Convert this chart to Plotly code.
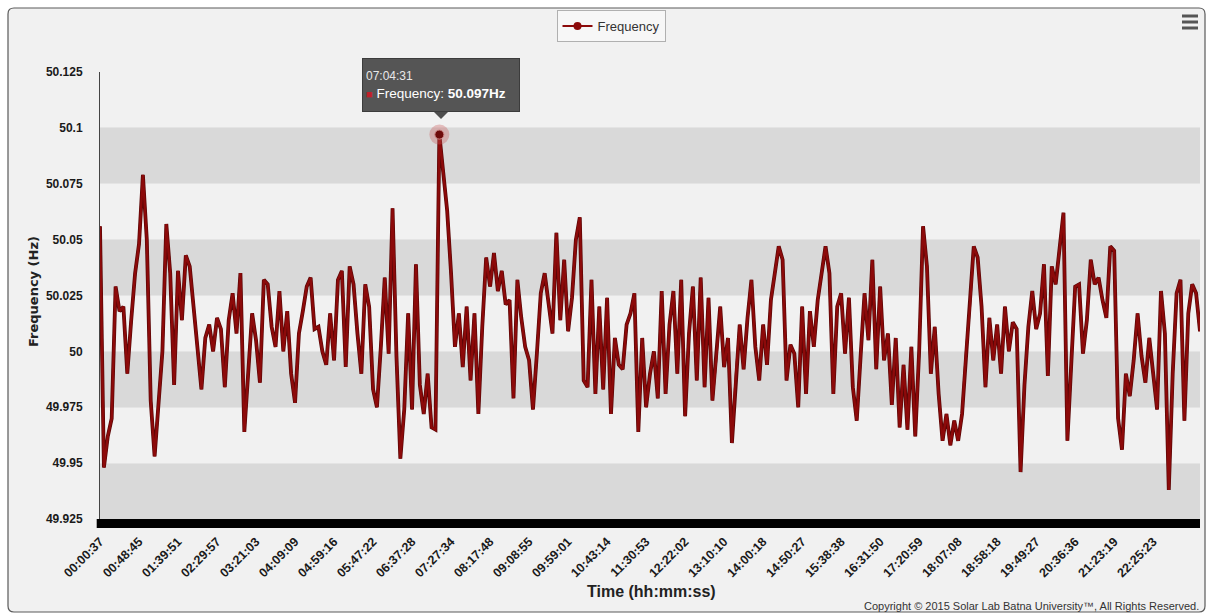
import plotly.graph_objects as go

# ---------------- data ----------------
series_name = "Frequency"
frequency_hz = [
    50.056, 49.948, 49.962, 49.970, 50.029, 50.018, 50.020, 49.990, 50.014, 50.035,
    50.048, 50.079, 50.050, 49.978, 49.953, 49.975, 50.000, 50.057, 50.035, 49.985,
    50.036, 50.014, 50.043, 50.038, 50.020, 50.000, 49.983, 50.006, 50.012, 50.000,
    50.015, 50.010, 49.984, 50.014, 50.026, 50.008, 50.035, 49.964, 49.990, 50.017,
    50.005, 49.986, 50.032, 50.030, 50.011, 50.002, 50.027, 50.000, 50.018, 49.990,
    49.977, 50.008, 50.018, 50.029, 50.033, 50.010, 50.011, 50.000, 49.994, 50.017,
    49.996, 50.032, 50.036, 49.993, 50.038, 50.030, 50.008, 49.990, 50.030, 50.020,
    49.983, 49.975, 50.002, 50.033, 49.999, 50.064, 49.998, 49.952, 49.974, 50.017,
    49.974, 50.039, 49.985, 49.972, 49.990, 49.966, 49.965, 50.097, 50.080, 50.063,
    50.035, 50.002, 50.017, 49.993, 50.020, 49.987, 50.017, 49.972, 50.011, 50.042,
    50.029, 50.044, 50.027, 50.036, 50.021, 50.023, 49.979, 50.032, 50.015, 50.002,
    49.996, 49.974, 49.999, 50.026, 50.035, 50.021, 50.008, 50.053, 50.014, 50.041,
    50.009, 50.024, 50.050, 50.060, 49.987, 49.984, 50.032, 49.981, 50.020, 49.983,
    50.024, 49.972, 50.006, 49.994, 49.992, 50.012, 50.017, 50.026, 49.964, 50.006,
    49.975, 49.990, 50.000, 49.979, 50.027, 49.981, 50.012, 50.027, 49.990, 50.032,
    49.971, 50.008, 50.029, 49.987, 50.033, 49.984, 50.024, 49.978, 49.997, 50.020,
    49.993, 50.006, 49.959, 49.989, 50.012, 49.992, 50.015, 50.032, 50.002, 49.987,
    50.012, 49.994, 50.023, 50.035, 50.047, 50.041, 49.987, 50.003, 49.999, 49.975,
    50.020, 49.981, 50.018, 50.002, 50.023, 50.035, 50.047, 50.035, 49.981, 50.020,
    50.026, 49.999, 50.024, 49.984, 49.969, 49.998, 50.026, 50.005, 50.041, 49.992,
    50.029, 49.996, 50.008, 49.976, 50.006, 49.966, 49.994, 49.965, 50.002, 49.962,
    50.000, 50.056, 50.038, 49.990, 50.011, 49.981, 49.960, 49.972, 49.958, 49.969,
    49.960, 49.972, 49.999, 50.020, 50.047, 50.042, 50.020, 49.984, 50.015, 49.996,
    50.012, 49.990, 50.020, 50.000, 50.013, 50.010, 49.946, 49.985, 50.011, 50.027,
    50.010, 50.017, 50.039, 49.989, 50.038, 50.030, 50.047, 50.062, 49.960, 49.996,
    50.029, 50.030, 49.999, 50.014, 50.041, 50.030, 50.033, 50.023, 50.015, 50.047,
    50.045, 49.970, 49.956, 49.990, 49.980, 49.996, 50.017, 49.998, 49.986, 50.006,
    49.990, 49.974, 50.027, 50.008, 49.938, 49.990, 50.026, 50.032, 49.969, 50.017,
    50.030, 50.026, 50.009,
]
time_tick_labels = [
    "00:00:37", "00:48:45", "01:39:51", "02:29:57", "03:21:03", "04:09:09",
    "04:59:16", "05:47:22", "06:37:28", "07:27:34", "08:17:48", "09:08:55",
    "09:59:01", "10:43:14", "11:30:53", "12:22:02", "13:10:10", "14:00:18",
    "14:50:27", "15:38:38", "16:31:50", "17:20:59", "18:07:08", "18:58:18",
    "19:49:27", "20:36:36", "21:23:19", "22:25:23",
]
points_per_label = 10
y_tick_values = [49.925, 49.95, 49.975, 50.0, 50.025, 50.05, 50.075, 50.1, 50.125]
y_tick_text = ["49.925", "49.95", "49.975", "50", "50.025", "50.05", "50.075", "50.1", "50.125"]
band_ranges = [(49.925, 49.95), (49.975, 50.0), (50.025, 50.05), (50.075, 50.1)]
tooltip_time = "07:04:31"
y_title = "Frequency (Hz)"
x_title = "Time (hh:mm:ss)"
copyright_text = "Copyright \u00a9 2015 Solar Lab Batna University\u2122, All Rights Reserved."

# ---------------- geometry helpers ----------------
W, H = 1209, 615
L, R, T, B = 100, 9, 72, 96
PW, PH = W - L - R, H - T - B


def px(x, y):
    return (x - L) / PW, (H - B - y) / PH


n = len(frequency_hz)
xs = list(range(n))
peak_i = max(range(n), key=lambda i: frequency_hz[i])
peak_v = frequency_hz[peak_i]

LINE_COLOR = "#8c0a0a"
FONT = "Liberation Sans"

fig = go.Figure()
fig.add_trace(go.Scatter(
    x=xs, y=frequency_hz, mode="lines", showlegend=False,
    line=dict(color="#5a0606", width=3.8), hoverinfo="skip",
))
fig.add_trace(go.Scatter(
    x=xs, y=frequency_hz, mode="lines", showlegend=False,
    line=dict(color=LINE_COLOR, width=2.4), hoverinfo="skip",
))
# legend entry (line + circle marker)
fig.add_trace(go.Scatter(
    x=[None], y=[None], mode="lines+markers", name=series_name,
    line=dict(color=LINE_COLOR, width=2), marker=dict(color=LINE_COLOR, size=8),
))
# hovered point halo
fig.add_trace(go.Scatter(
    x=[xs[peak_i]], y=[peak_v], mode="markers", showlegend=False,
    marker=dict(size=20, color="rgba(200,90,90,0.35)", line=dict(width=0)),
    hoverinfo="skip",
))
fig.add_trace(go.Scatter(
    x=[xs[peak_i]], y=[peak_v], mode="markers", showlegend=False,
    marker=dict(size=9, color="#6e0a0a", line=dict(width=1, color="#c98080")),
    hoverinfo="skip",
))

shapes = []


def P(x, y):
    a, b = px(x, y)
    return f"{a:.5f},{b:.5f}"


# outer rounded frame
fx0, fy0, fx1, fy1, r = 8, 8, 1205, 612, 6
path = (f"M {P(fx0 + r, fy0)} L {P(fx1 - r, fy0)} Q {P(fx1, fy0)} {P(fx1, fy0 + r)} "
        f"L {P(fx1, fy1 - r)} Q {P(fx1, fy1)} {P(fx1 - r, fy1)} "
        f"L {P(fx0 + r, fy1)} Q {P(fx0, fy1)} {P(fx0, fy1 - r)} "
        f"L {P(fx0, fy0 + r)} Q {P(fx0, fy0)} {P(fx0 + r, fy0)} Z")
shapes.append(dict(type="path", xref="paper", yref="paper", path=path,
                   fillcolor="#f1f1f1", line=dict(color="#5a5a5a", width=1.2), layer="below"))
# alternating bands
for lo, hi in band_ranges:
    shapes.append(dict(type="rect", xref="paper", yref="y", x0=0, x1=1, y0=lo, y1=hi,
                       fillcolor="#d9d9d9", line=dict(width=0), layer="below"))
# thick black base bar
b0 = px(0, 519)[1]
b1 = px(0, 528)[1]
shapes.append(dict(type="rect", xref="paper", yref="paper", x0=-0.003, x1=1, y0=b1, y1=b0,
                   fillcolor="#000000", line=dict(width=0)))
# hamburger icon
for yy in (16, 22, 28):
    a0, c = px(1182, yy)
    a1, _ = px(1198, yy)
    shapes.append(dict(type="line", xref="paper", yref="paper", x0=a0, x1=a1, y0=c, y1=c,
                       line=dict(color="#555555", width=3)))
# tooltip pointer triangle
t1 = px(434, 112); t2 = px(448, 112); t3 = px(441, 119)
shapes.append(dict(type="path", xref="paper", yref="paper",
                   path=f"M {t1[0]},{t1[1]} L {t2[0]},{t2[1]} L {t3[0]},{t3[1]} Z",
                   fillcolor="#4d4d4d", line=dict(width=0)))

annotations = []
tx, ty = px(441.5, 85)
annotations.append(dict(
    xref="paper", yref="paper", x=tx, y=ty, xanchor="center", yanchor="middle",
    showarrow=False, align="left", width=150, height=46,
    bgcolor="#555555", bordercolor="#3c3c3c", borderwidth=1, borderpad=3,
    text=(f"<span style='font-size:12px;color:#e8e8e8'>{tooltip_time}</span><br>"
          f"<span style='color:#c0202a;font-size:11px'>\u25a0</span> {series_name}: <b>{peak_v:.3f}Hz</b>"),
    font=dict(family=FONT, size=13.5, color="#ffffff"),
))
ax, ay = px(33, 292)
annotations.append(dict(xref="paper", yref="paper", x=ax, y=ay, text=f"<b>{y_title}</b>",
                        textangle=-90, showarrow=False, xanchor="center", yanchor="middle",
                        font=dict(family="DejaVu Sans", size=13, color="#222222")))
ax, ay = px(651, 591)
annotations.append(dict(xref="paper", yref="paper", x=ax, y=ay, text=f"<b>{x_title}</b>",
                        showarrow=False, xanchor="center", yanchor="middle",
                        font=dict(family=FONT, size=16, color="#222222")))
ax, ay = px(1201, 606)
annotations.append(dict(xref="paper", yref="paper", x=ax, y=ay, text=copyright_text,
                        showarrow=False, xanchor="right", yanchor="middle",
                        font=dict(family=FONT, size=11, color="#333333")))

lx, ly = px(611, 10)
fig.update_layout(
    width=W, height=H,
    margin=dict(l=L, r=R, t=T, b=B, pad=0),
    paper_bgcolor="#ffffff", plot_bgcolor="#f1f1f1",
    shapes=shapes, annotations=annotations,
    showlegend=True,
    legend=dict(x=lx, y=ly, xanchor="center", yanchor="top", orientation="h",
                bgcolor="#f7f7f7", bordercolor="#b0b0b0", borderwidth=1,
                font=dict(family=FONT, size=13, color="#333333"), itemwidth=30),
    xaxis=dict(range=[0, n - 1], showgrid=False, zeroline=False, showline=False,
               tickvals=[k * points_per_label for k in range(len(time_tick_labels))],
               ticktext=time_tick_labels, tickangle=-45, ticks="",
               ticklabelstandoff=12,
               tickfont=dict(family=FONT, size=12.5, color="#1a1a1a", weight="bold")),
    yaxis=dict(range=[y_tick_values[0], y_tick_values[-1]], tickvals=y_tick_values,
               ticktext=y_tick_text, showgrid=True, gridcolor="#e4e4e4", gridwidth=1,
               zeroline=False, showline=True, linecolor="#444444", linewidth=1,
               ticks="", ticklabelstandoff=14,
               tickfont=dict(family=FONT, size=12, color="#1a1a1a", weight="bold")),
)

fig.write_html("out.html", config={"displayModeBar": False},
               post_script="document.body.style.margin='0';document.body.style.padding='0';")
